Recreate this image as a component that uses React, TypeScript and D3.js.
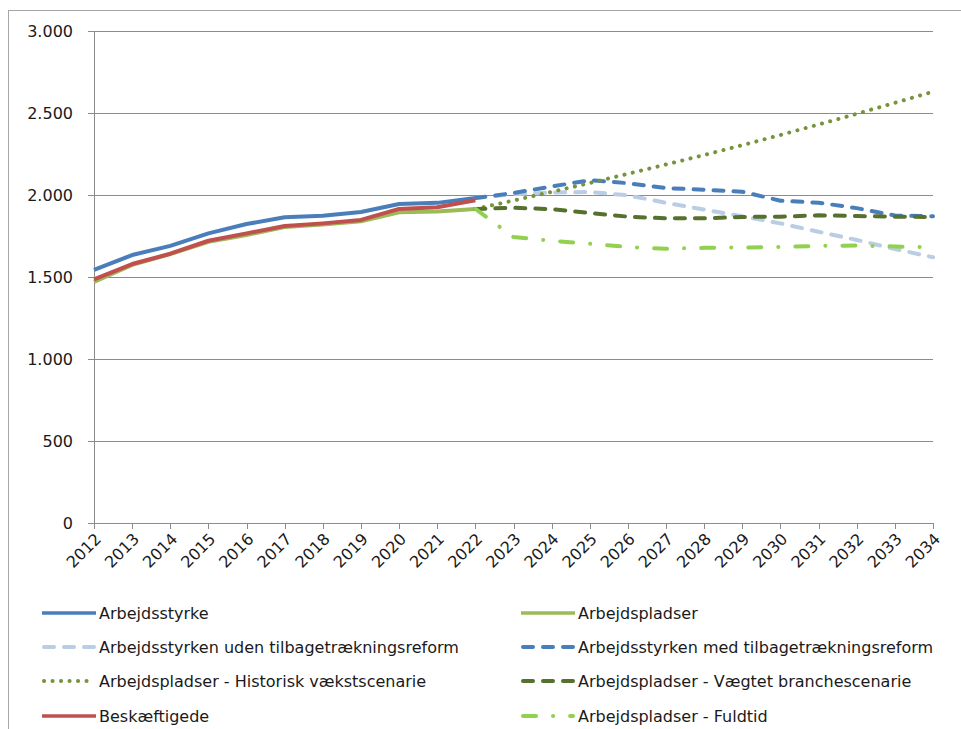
import React from "react";
import * as d3 from "d3";

const years = [2012, 2013, 2014, 2015, 2016, 2017, 2018, 2019, 2020, 2021, 2022, 2023, 2024, 2025, 2026, 2027, 2028, 2029, 2030, 2031, 2032, 2033, 2034];
const histYears = [2012, 2013, 2014, 2015, 2016, 2017, 2018, 2019, 2020, 2021, 2022];
const projYears = [2022, 2023, 2024, 2025, 2026, 2027, 2028, 2029, 2030, 2031, 2032, 2033, 2034];
const yTicks = [0, 500, 1000, 1500, 2000, 2500, 3000];

const arbejdsstyrke = [1543, 1634, 1690, 1766, 1823, 1864, 1874, 1896, 1945, 1952, 1982];
const arbejdspladser = [1470, 1574, 1640, 1715, 1756, 1805, 1820, 1840, 1895, 1900, 1915];
const beskaeftigede = [1486, 1579, 1642, 1721, 1766, 1811, 1827, 1848, 1915, 1925, 1968];
const udenReform = [1982, 2005, 2015, 2018, 1998, 1952, 1911, 1870, 1827, 1776, 1726, 1671, 1620];
const medReform = [1982, 2012, 2052, 2090, 2072, 2042, 2032, 2020, 1965, 1953, 1920, 1875, 1870];
const historisk = [1915, 1966, 2019, 2073, 2129, 2186, 2244, 2304, 2366, 2430, 2495, 2562, 2630];
const vaegtet = [1915, 1922, 1914, 1890, 1868, 1858, 1858, 1866, 1868, 1876, 1872, 1868, 1866];
const fuldtid = [1915, 1744, 1721, 1703, 1683, 1672, 1678, 1680, 1683, 1690, 1692, 1686, 1682];

const fmt = (v: number) => (v >= 1000 ? `${Math.floor(v / 1000)}.${String(v % 1000).padStart(3, "0")}` : String(v));

type Series = {
  name: string;
  xs: number[];
  values: number[];
  color: string;
  width: number;
  dash?: string;
  cap?: "round" | "butt";
};

const series: Series[] = [
  { name: "Arbejdsstyrke", xs: histYears, values: arbejdsstyrke, color: "#4A7EBB", width: 4 },
  { name: "Arbejdspladser", xs: histYears, values: arbejdspladser, color: "#9BBB59", width: 4 },
  { name: "Arbejdsstyrken uden tilbagetrækningsreform", xs: projYears, values: udenReform, color: "#B9CDE5", width: 4, dash: "10 10", cap: "round" },
  { name: "Arbejdsstyrken med tilbagetrækningsreform", xs: projYears, values: medReform, color: "#4A7EBB", width: 4, dash: "10 10", cap: "round" },
  { name: "Arbejdspladser - Historisk vækstscenarie", xs: projYears, values: historisk, color: "#77933C", width: 4, dash: "0.1 8.4", cap: "round" },
  { name: "Arbejdspladser - Vægtet branchescenarie", xs: projYears, values: vaegtet, color: "#56702E", width: 4, dash: "10 10", cap: "round" },
  { name: "Beskæftigede", xs: histYears, values: beskaeftigede, color: "#C0504D", width: 4 },
  { name: "Arbejdspladser - Fuldtid", xs: projYears, values: fuldtid, color: "#92D050", width: 4, dash: "13 17 0.1 17", cap: "round" },
];

const legendOrder = [
  [0, 1],
  [2, 3],
  [4, 5],
  [6, 7],
];

export default function App() {
  const W = 961;
  const H = 729;
  const x = d3.scaleLinear().domain([2012, 2034]).range([94, 933]);
  const y = d3.scaleLinear().domain([0, 3000]).range([523, 31]);
  const font = "'DejaVu Sans', sans-serif";
  const gridColor = "#8C8C8C";

  const legendRows = [613, 647, 681, 716];
  const legendCols = [
    { x0: 42, x1: 96, tx: 99 },
    { x0: 521, x1: 575, tx: 578 },
  ];

  return (
    <svg width={W} height={H} style={{ position: "absolute", left: 0, top: 0, background: "#fff" }}>
      <rect x={8.5} y={10.5} width={W + 10} height={H + 10} fill="#fff" stroke="#A6A6A6" strokeWidth={1} />
      {yTicks.map((t) => (
        <g key={t}>
          <line x1={88} x2={933} y1={Math.round(y(t)) + 0.5} y2={Math.round(y(t)) + 0.5} stroke={gridColor} strokeWidth={1} />
          <text x={73} y={y(t)} dy="0.36em" textAnchor="end" fontFamily={font} fontSize={16} fill="#1a1a1a">
            {fmt(t)}
          </text>
        </g>
      ))}
      <line x1={94.5} x2={94.5} y1={31} y2={523} stroke={gridColor} strokeWidth={1} />
      {years.map((yr) => (
        <g key={yr}>
          <line x1={Math.round(x(yr)) + 0.5} x2={Math.round(x(yr)) + 0.5} y1={523} y2={529} stroke={gridColor} strokeWidth={1} />
          <text
            transform={`translate(${x(yr) + 4},${536}) rotate(-45)`}
            textAnchor="end"
            dy="0.36em"
            fontFamily={font}
            fontSize={16}
            fill="#1a1a1a"
          >
            {yr}
          </text>
        </g>
      ))}
      {series.map((s) => {
        const pts = s.xs.map((xx, i) => [xx, s.values[i]] as [number, number]);
        const line = d3
          .line<[number, number]>()
          .x((d) => x(d[0]))
          .y((d) => y(d[1]));
        return (
          <path
            key={s.name}
            d={line(pts) || ""}
            fill="none"
            stroke={s.color}
            strokeWidth={s.width}
            strokeDasharray={s.dash}
            strokeLinecap={s.cap || "butt"}
            strokeLinejoin="round"
          />
        );
      })}
      {legendOrder.map((row, ri) =>
        row.map((si, ci) => {
          const s = series[si];
          const c = legendCols[ci];
          const yy = legendRows[ri];
          return (
            <g key={s.name}>
              <line
                x1={c.x0 + (s.cap === "round" ? 2 : 0)}
                x2={c.x1 - (s.cap === "round" ? 2 : 0)}
                y1={yy}
                y2={yy}
                stroke={s.color}
                strokeWidth={s.dash ? 4 : 3.5}
                strokeDasharray={s.dash}
                strokeLinecap={s.cap || "butt"}
              />
              <text x={c.tx} y={yy} dy="0.36em" fontFamily={font} fontSize={16} fill="#1a1a1a">
                {s.name}
              </text>
            </g>
          );
        })
      )}
    </svg>
  );
}
